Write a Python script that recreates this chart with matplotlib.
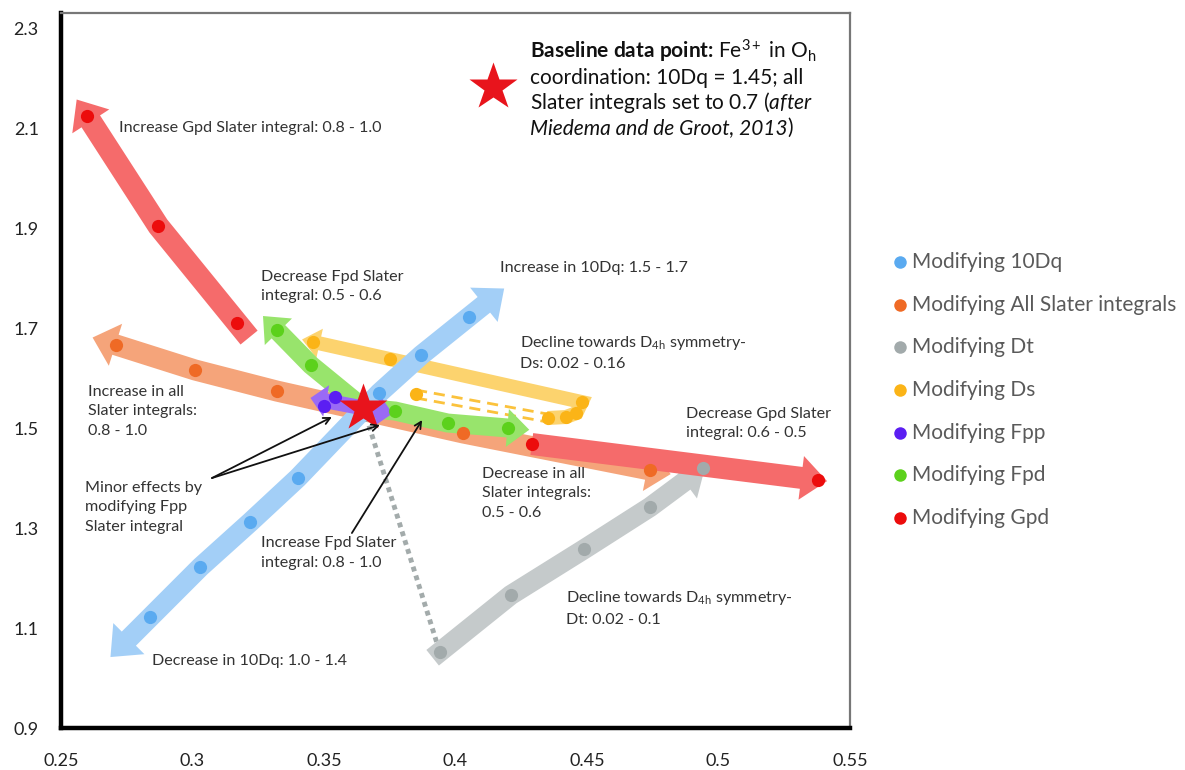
import numpy as np
import matplotlib
matplotlib.use("Agg")
import matplotlib.pyplot as plt
from matplotlib.patches import Polygon
from matplotlib.lines import Line2D

plt.rcParams["font.family"] = ["Lato", "DejaVu Sans"]
plt.rcParams["mathtext.fontset"] = "custom"
plt.rcParams["mathtext.rm"] = "Lato"
plt.rcParams["mathtext.it"] = "Lato:italic"
plt.rcParams["mathtext.bf"] = "Lato:bold"

# baseline calculation: Fe3+ in Oh, 10Dq = 1.45, Slater integrals at 0.7
base_x, base_y = 0.365, 1.54

# each parameter sweep (x, y)
dq_x = [0.284, 0.303, 0.322, 0.340, 0.371, 0.387, 0.405]
dq_y = [1.122, 1.222, 1.312, 1.400, 1.570, 1.646, 1.722]

slater_x = [0.271, 0.301, 0.332, 0.403, 0.474]
slater_y = [1.666, 1.616, 1.574, 1.490, 1.416]

dt_x = [0.394, 0.421, 0.449, 0.474, 0.494]
dt_y = [1.052, 1.166, 1.258, 1.342, 1.420]

ds_x = [0.385, 0.435, 0.442, 0.446, 0.448, 0.375, 0.346]
ds_y = [1.568, 1.520, 1.522, 1.530, 1.552, 1.638, 1.672]

fpp_x = [0.354, 0.350]
fpp_y = [1.562, 1.544]

fpd_x = [0.332, 0.345, 0.377, 0.397, 0.420]
fpd_y = [1.696, 1.626, 1.534, 1.510, 1.500]

gpd_x = [0.317, 0.287, 0.260, 0.429, 0.538]
gpd_y = [1.710, 1.904, 2.124, 1.468, 1.396]

series_names = ["Modifying 10Dq", "Modifying All Slater integrals", "Modifying Dt",
                "Modifying Ds", "Modifying Fpp", "Modifying Fpd", "Modifying Gpd"]
dot_colors = ["#5aaaf0", "#ef6a25", "#a2aaab", "#fbb417", "#5b1ef2", "#5cd11c", "#ec0c0c"]
band_colors = ["#a3cff7", "#f5a47a", "#c5cacb", "#fcd36e", "#9a6af5", "#98e46c", "#f56b6b"]

xticks = [0.25, 0.3, 0.35, 0.4, 0.45, 0.5, 0.55]
yticks = [0.9, 1.1, 1.3, 1.5, 1.7, 1.9, 2.1, 2.3]


def pts(xs, ys):
    return np.column_stack([xs, ys]).astype(float)


def extend(p_from, p_to, f):
    return p_to + f * (p_to - p_from)


def band(ax, path, width, color, z, head_w, head_len, start_head=False, end_head=True):
    # thick arrow along a polyline, built in pixel space so widths stay constant
    P = list(ax.transData.transform(np.asarray(path, float)))
    tipS = tipE = None
    if end_head:
        tipE = P[-1]
        d = tipE - P[-2]
        d = d / np.hypot(*d)
        baseE = tipE - d * head_len
        P.pop()
        while len(P) > 1 and np.dot(P[-1] - baseE, d) >= 0:
            P.pop()
        P.append(baseE)
    if start_head:
        tipS = P[0]
        d = tipS - P[1]
        d = d / np.hypot(*d)
        baseS = tipS - d * head_len
        P.pop(0)
        while len(P) > 1 and np.dot(P[0] - baseS, d) >= 0:
            P.pop(0)
        P.insert(0, baseS)
    P = np.array(P)
    seg = np.diff(P, axis=0)
    nrm = np.column_stack([-seg[:, 1], seg[:, 0]]) / np.hypot(seg[:, 0], seg[:, 1])[:, None]
    vn = np.empty_like(P)
    vn[0], vn[-1] = nrm[0], nrm[-1]
    for i in range(1, len(P) - 1):
        m = nrm[i - 1] + nrm[i]
        m = m / np.hypot(*m)
        vn[i] = m / max(np.dot(m, nrm[i]), 0.5)
    left = P + vn * width / 2
    right = P - vn * width / 2
    outline = list(left)
    if end_head:
        outline += [P[-1] + nrm[-1] * head_w / 2, tipE, P[-1] - nrm[-1] * head_w / 2]
    outline += list(right[::-1])
    if start_head:
        outline += [P[0] - nrm[0] * head_w / 2, tipS, P[0] + nrm[0] * head_w / 2]
    data = ax.transData.inverted().transform(np.array(outline))
    ax.add_patch(Polygon(data, closed=True, facecolor=color, edgecolor="none", zorder=z))


fig = plt.figure(figsize=(11.85, 7.7), dpi=100)
ax = fig.add_axes([0.0515, 0.0545, 0.6658, 0.9286])
ax.set_xlim(0.25, 0.55)
ax.set_ylim(0.9, 2.33)
ax.set_xticks(xticks)
ax.set_xticklabels([f"{v:g}" for v in xticks])
ax.set_yticks(yticks)
ax.set_yticklabels([f"{v:g}" for v in yticks])
ax.tick_params(length=0, labelsize=13, colors="#222222")
ax.tick_params(axis="y", pad=16)
ax.tick_params(axis="x", pad=18)
for s in ["left", "bottom"]:
    ax.spines[s].set_linewidth(3.2)
    ax.spines[s].set_color("black")
for s in ["top", "right"]:
    ax.spines[s].set_linewidth(1.6)
    ax.spines[s].set_color("#777777")

base = np.array([base_x, base_y])
dq = pts(dq_x, dq_y)
sl = pts(slater_x, slater_y)
dt = pts(dt_x, dt_y)
ds = pts(ds_x, ds_y)
fpp = pts(fpp_x, fpp_y)
fpd = pts(fpd_x, fpd_y)
gpd = pts(gpd_x, gpd_y)

# All Slater integrals
band(ax, [extend(sl[1], sl[0], 0.3), *sl, extend(sl[-2], sl[-1], 0.11)],
     21, band_colors[1], 2.0, 44, 24, start_head=True)

# Ds: dashed jump then the solid track running back to the left
for off in (-4, 4):
    p = ax.transData.transform(ds[:2]) + np.array([0, off])
    p = ax.transData.inverted().transform(p)
    ax.plot(p[:, 0], p[:, 1], color="#fbc23c", lw=2, dashes=(4, 2.5), zorder=2.1)
band(ax, [*ds[1:], extend(ds[-2], ds[-1], 0.15)], 14, band_colors[3], 2.1, 30, 18)

# Dt: dotted link from the baseline to the first point
ax.plot([base_x, dt_x[0]], [base_y, dt_y[0]], color="#a3abab", lw=3.5,
        dashes=(1, 0.9), zorder=2.2)

# Fpd
band(ax, [extend(fpd[1], fpd[0], 0.4), fpd[0], fpd[1], base, *fpd[2:],
          extend(fpd[-2], fpd[-1], 0.35)],
     19, band_colors[5], 2.3, 38, 22, start_head=True)

# 10Dq
band(ax, [extend(dq[1], dq[0], 0.8), *dq, extend(dq[-2], dq[-1], 0.75)],
     20, band_colors[0], 2.4, 44, 26, start_head=True)

# Dt
band(ax, [extend(dt[1], dt[0], 0.1), *dt, extend(dt[-2], dt[-1], 0.05)],
     20, band_colors[2], 2.5, 42, 26)

# Gpd, up and to the right
band(ax, [extend(gpd[1], gpd[0], 0.15), *gpd[:3], extend(gpd[1], gpd[2], 0.15)],
     22, band_colors[6], 2.6, 44, 26)
band(ax, [gpd[3], gpd[4], extend(gpd[3], gpd[4], 0.03)],
     22, band_colors[6], 2.6, 44, 26)

# Fpp, short double arrow across the baseline
c = fpp.mean(axis=0)
band(ax, [c + 0.55 * (c - base), base - 0.85 * (c - base)],
     15, band_colors[4], 2.7, 32, 16, start_head=True)

for (xs, ys), col in zip([(dq_x, dq_y), (slater_x, slater_y), (dt_x, dt_y), (ds_x, ds_y),
                          (fpp_x, fpp_y), (fpd_x, fpd_y), (gpd_x, gpd_y)], dot_colors):
    ax.plot(xs, ys, "o", ls="none", ms=9.5, color=col, mec="none", zorder=3)

ax.plot(base_x, base_y, "*", ms=36, color="#e8141c", mec="none", zorder=4)

# labels along the arrows
txt = dict(fontsize=11.6, color="#333333", va="center", ha="left", linespacing=1.5, zorder=5)
ax.text(0.2721, 2.100, "Increase Gpd Slater integral: 0.8 - 1.0", **txt)
ax.text(0.3260, 1.783, "Decrease Fpd Slater\nintegral: 0.5 - 0.6", **txt)
ax.text(0.4169, 1.820, "Increase in 10Dq: 1.5 - 1.7", **txt)
ax.text(0.4245, 1.651, "Decline towards D$_{\\mathrm{4h}}$ symmetry-\nDs: 0.02 - 0.16", **txt)
ax.text(0.2603, 1.534, "Increase in all\nSlater integrals:\n0.8 - 1.0", **txt)
ax.text(0.4876, 1.509, "Decrease Gpd Slater\nintegral: 0.6 - 0.5", **txt)
ax.text(0.2591, 1.342, "Minor effects by\nmodifying Fpp\nSlater integral", **txt)
ax.text(0.3260, 1.250, "Increase Fpd Slater\nintegral: 0.8 - 1.0", **txt)
ax.text(0.4101, 1.370, "Decrease in all\nSlater integrals:\n0.5 - 0.6", **txt)
ax.text(0.4420, 1.140, "Decline towards D$_{\\mathrm{4h}}$ symmetry-\nDt: 0.02 - 0.1", **txt)
ax.text(0.2846, 1.034, "Decrease in 10Dq: 1.0 - 1.4", **txt)

pointer = dict(arrowstyle="->", lw=1.3, color="#111111", shrinkA=0, shrinkB=0,
               mutation_scale=12)
ax.annotate("", xy=(0.3530, 1.522), xytext=(0.3074, 1.400), arrowprops=pointer, zorder=5)
ax.annotate("", xy=(0.3713, 1.506), xytext=(0.3074, 1.400), arrowprops=pointer, zorder=5)
ax.annotate("", xy=(0.3873, 1.516), xytext=(0.3606, 1.290), arrowprops=pointer, zorder=5)

# baseline key
ax.plot(0.4143, 2.182, "*", ms=36, color="#e8141c", mec="none", zorder=4)
key = dict(fontsize=15, color="#111111", ha="left", va="baseline")
ax.text(0.4283, 2.240, "Baseline data point: $\\mathrm{Fe}^{3+}\\mathrm{\\ in\\ O}_{\\mathrm{h}}$",
        fontweight="bold", **key)
ax.text(0.4283, 2.188, "coordination: 10Dq = 1.45; all", **key)
ax.text(0.4283, 2.138, "Slater integrals set to 0.7 ($\\mathit{after}$", **key)
ref = ax.text(0.4283, 2.088, "Miedema and de Groot, 2013", fontstyle="italic", **key)
ax.annotate(")", xy=(1, 0), xycoords=ref, va="bottom", ha="left",
            fontsize=15, color="#111111")

# series legend on the right
for i, (name, col) in enumerate(zip(series_names, dot_colors)):
    y = 1 - (262 + i * 42.7) / 770
    fig.add_artist(Line2D([0.7595], [y], transform=fig.transFigure, marker="o", ms=9,
                          color=col, mec="none", ls="none"))
    fig.text(0.7696, y, name, fontsize=15, color="#5a5a5a", va="center", ha="left")

fig.savefig("out.png", dpi=100)
